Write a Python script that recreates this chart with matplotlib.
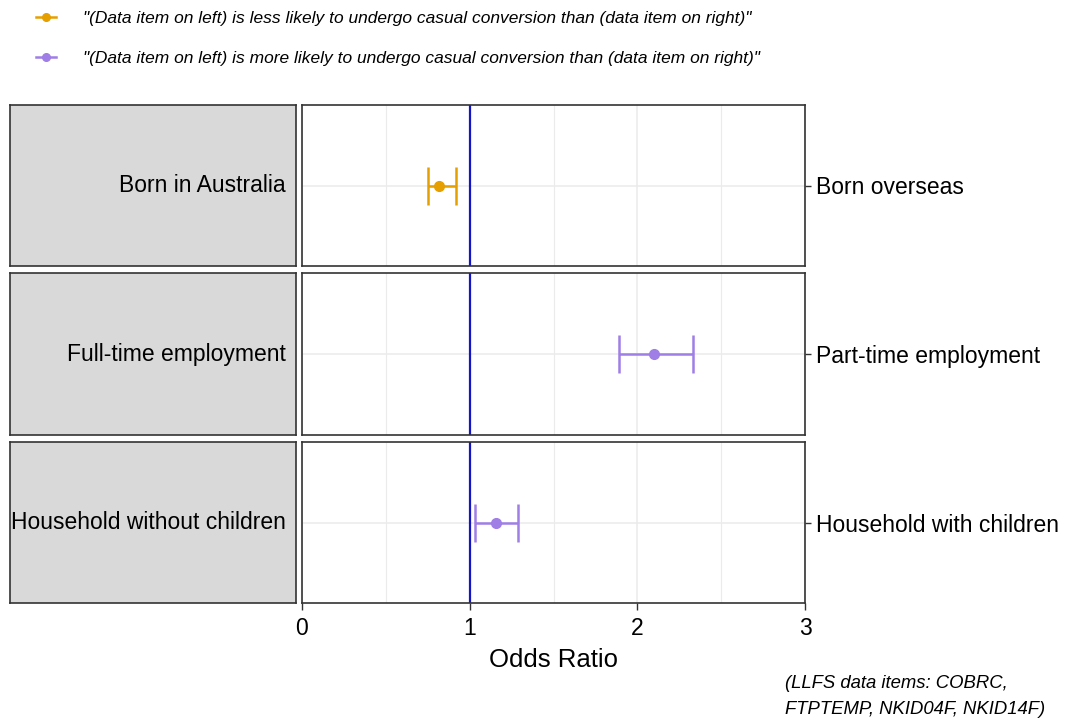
import matplotlib.pyplot as plt
from matplotlib.lines import Line2D

plt.rcParams['font.family'] = ['Liberation Sans', 'DejaVu Sans']

# data
left_items = ['Born in Australia', 'Full-time employment', 'Household without children']
right_items = ['Born overseas', 'Part-time employment', 'Household with children']
odds = [0.82, 2.10, 1.16]
ci_low = [0.75, 1.89, 1.03]
ci_high = [0.92, 2.33, 1.29]
legend_labels = [
    '"(Data item on left) is less likely to undergo casual conversion than (data item on right)"',
    '"(Data item on left) is more likely to undergo casual conversion than (data item on right)"',
]

orange = '#E69F00'
purple = '#9F7EE6'

fig = plt.figure(figsize=(10.65, 7.22), dpi=100)

W, H = 1065, 722
panel_rows = [(105, 266), (273, 435), (442, 603)]
px_left, px_right = 302, 805

for i, (top, bot) in enumerate(panel_rows):
    # grey strip on the left
    sax = fig.add_axes([10 / W, 1 - bot / H, 286 / W, (bot - top) / H])
    sax.set_facecolor('#D9D9D9')
    sax.set_xticks([])
    sax.set_yticks([])
    for s in sax.spines.values():
        s.set_color('#333333')
        s.set_linewidth(1.2)
    sax.text(0.963, 0.5, left_items[i], transform=sax.transAxes,
             ha='right', va='center', fontsize=16.5)

    ax = fig.add_axes([px_left / W, 1 - bot / H, (px_right - px_left) / W, (bot - top) / H])
    ax.set_xlim(0, 3)
    ax.set_ylim(-1, 1)
    ax.set_xticks([0, 1, 2, 3])
    ax.set_xticks([0.5, 1.5, 2.5], minor=True)
    ax.grid(True, which='major', axis='both', color='#EBEBEB', linewidth=1.1)
    ax.grid(True, which='minor', axis='x', color='#EBEBEB', linewidth=0.8)
    ax.set_axisbelow(True)
    ax.tick_params(which='minor', length=0)
    ax.set_yticks([0])
    ax.yaxis.tick_right()
    ax.set_yticklabels([right_items[i]], fontsize=16.5)
    ax.tick_params(axis='y', length=4, width=1, colors='#333333', labelcolor='black', pad=4)
    if i < 2:
        ax.tick_params(axis='x', length=0, labelbottom=False)
    else:
        ax.tick_params(axis='x', length=5, width=1, colors='#333333',
                       labelcolor='black', labelsize=16.5, pad=5)
        ax.set_xlabel('Odds Ratio', fontsize=18.5, labelpad=6)
    for s in ax.spines.values():
        s.set_color('#333333')
        s.set_linewidth(1.2)

    c = orange if odds[i] < 1 else purple
    ax.errorbar([odds[i]], [0], xerr=[[odds[i] - ci_low[i]], [ci_high[i] - odds[i]]],
                fmt='o', color=c, ms=7, elinewidth=1.8, capsize=14, capthick=1.8, zorder=3)
    ax.axvline(1, color='#1414C8', linewidth=1.6, zorder=2)

# legend at the top
handles = [
    Line2D([0], [0], color=orange, marker='o', ms=5.5, lw=1.8),
    Line2D([0], [0], color=purple, marker='o', ms=5.5, lw=1.8),
]
fig.legend(handles, legend_labels, loc='upper left', bbox_to_anchor=(20 / W, 1 + 5 / H),
           frameon=False, prop={'style': 'italic', 'size': 12.5}, handlelength=1.2,
           labelspacing=1.45, handletextpad=1.55)

fig.text(785 / W, 1 - 683 / H, '(LLFS data items: COBRC,', fontsize=13.3, style='italic',
         ha='left', va='center')
fig.text(785 / W, 1 - 710 / H, 'FTPTEMP, NKID04F, NKID14F)', fontsize=13.3, style='italic',
         ha='left', va='center')

plt.savefig('out.png', dpi=100)
